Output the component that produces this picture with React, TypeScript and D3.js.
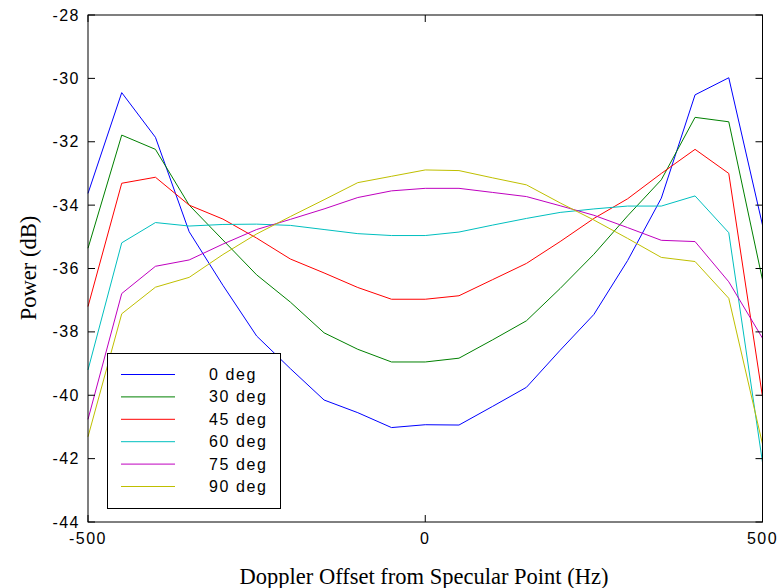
import React from "react";
import * as d3 from "d3";

const freqs = [-500, -450, -400, -350, -300, -250, -200, -150, -100, -50, 0, 50, 100, 150, 200, 250, 300, 350, 400, 450, 500];

const deg0 = [-33.63, -30.45, -31.86, -34.84, -36.53, -38.13, -39.16, -40.15, -40.55, -41.02, -40.93, -40.94, -40.35, -39.75, -38.58, -37.45, -35.75, -33.78, -30.52, -29.98, -34.63];
const deg30 = [-35.36, -31.79, -32.24, -34.0, -35.1, -36.2, -37.06, -38.03, -38.55, -38.95, -38.95, -38.83, -38.25, -37.65, -36.63, -35.55, -34.34, -33.2, -31.23, -31.37, -36.36];
const deg45 = [-37.2, -33.31, -33.12, -34.0, -34.44, -35.04, -35.7, -36.14, -36.6, -36.97, -36.97, -36.86, -36.35, -35.84, -35.15, -34.42, -33.8, -33.0, -32.24, -33.0, -40.05];
const deg60 = [-39.2, -35.19, -34.55, -34.66, -34.61, -34.6, -34.64, -34.77, -34.9, -34.96, -34.96, -34.85, -34.63, -34.42, -34.23, -34.12, -34.03, -34.03, -33.71, -34.87, -42.12];
const deg75 = [-40.76, -36.79, -35.93, -35.73, -35.23, -34.77, -34.45, -34.12, -33.76, -33.55, -33.47, -33.47, -33.6, -33.73, -34.02, -34.32, -34.71, -35.11, -35.15, -36.42, -38.2];
const deg90 = [-41.31, -37.43, -36.59, -36.28, -35.56, -34.91, -34.36, -33.83, -33.29, -33.09, -32.89, -32.91, -33.14, -33.36, -33.93, -34.47, -35.05, -35.65, -35.78, -36.94, -41.54];

const seriesNames = ["0 deg", "30 deg", "45 deg", "60 deg", "75 deg", "90 deg"];
const seriesValues = [deg0, deg30, deg45, deg60, deg75, deg90];
const seriesColors = ["#0000ff", "#008000", "#ff0000", "#00bfbf", "#bf00bf", "#bfbf00"];

const xTicks = [-500, 0, 500];
const yTicks = [-44, -42, -40, -38, -36, -34, -32, -30, -28];

const W = 780;
const H = 588;
const left = 88;
const right = 762.5;
const top = 15;
const bottom = 522;

export default function App() {
  const x = d3.scaleLinear().domain([-500, 500]).range([left, right]);
  const y = d3.scaleLinear().domain([-44, -28]).range([bottom, top]);
  const line = d3
    .line<number>()
    .x((_, i) => x(freqs[i]))
    .y((v) => y(v));

  const tickFont = "'Liberation Sans', Arial, sans-serif";
  const serif = "'Liberation Serif', 'Times New Roman', serif";
  const tl = 7;

  const legX = 107.5;
  const legY = 353.5;
  const legW = 173;
  const legH = 155;
  const rowY0 = 374.5;
  const rowDy = 22.4;

  return (
    <div style={{ position: "absolute", left: 0, top: 0 }}>
      <svg width={W} height={H} style={{ display: "block", background: "#fff" }}>
        <rect x={0} y={0} width={W} height={H} fill="#fff" />
        <g>
          {seriesValues.map((vals, k) => (
            <path key={k} d={line(vals) || ""} fill="none" stroke={seriesColors[k]} strokeWidth={1} />
          ))}
        </g>
        <rect x={left} y={top} width={right - left} height={bottom - top} fill="none" stroke="#000" strokeWidth={1} />
        {yTicks.map((t) => (
          <g key={"y" + t}>
            <line x1={left} x2={left + tl} y1={y(t)} y2={y(t)} stroke="#000" />
            <line x1={right - tl} x2={right} y1={y(t)} y2={y(t)} stroke="#000" />
            <text
              x={80}
              y={y(t)}
              textAnchor="end"
              dominantBaseline="central"
              fontFamily={tickFont}
              fontSize={16}
              letterSpacing={1.5}
              fill="#000"
            >
              {t}
            </text>
          </g>
        ))}
        {xTicks.map((t) => (
          <g key={"x" + t}>
            <line x1={x(t)} x2={x(t)} y1={bottom} y2={bottom - tl} stroke="#000" />
            <line x1={x(t)} x2={x(t)} y1={top} y2={top + tl} stroke="#000" />
            <text
              x={x(t)}
              y={538}
              textAnchor="middle"
              dominantBaseline="central"
              fontFamily={tickFont}
              fontSize={16}
              letterSpacing={1.5}
              fill="#000"
            >
              {t}
            </text>
          </g>
        ))}
        <text
          x={424}
          y={576}
          textAnchor="middle"
          dominantBaseline="central"
          fontFamily={serif}
          fontSize={22.5}
          fill="#000"
        >
          Doppler Offset from Specular Point (Hz)
        </text>
        <text
          transform={`translate(28,268) rotate(-90)`}
          textAnchor="middle"
          dominantBaseline="central"
          fontFamily={serif}
          fontSize={22.5}
          fill="#000"
        >
          Power (dB)
        </text>
        <rect x={legX} y={legY} width={legW} height={legH} fill="#fff" stroke="#000" strokeWidth={1} />
        {seriesNames.map((n, k) => (
          <g key={n}>
            <line
              x1={121}
              x2={175}
              y1={rowY0 + k * rowDy}
              y2={rowY0 + k * rowDy}
              stroke={seriesColors[k]}
              strokeWidth={1}
            />
            <text
              x={209}
              y={rowY0 + k * rowDy}
              dominantBaseline="central"
              fontFamily={tickFont}
              fontSize={16}
              letterSpacing={1.6}
              fill="#000"
            >
              {n}
            </text>
          </g>
        ))}
      </svg>
    </div>
  );
}
